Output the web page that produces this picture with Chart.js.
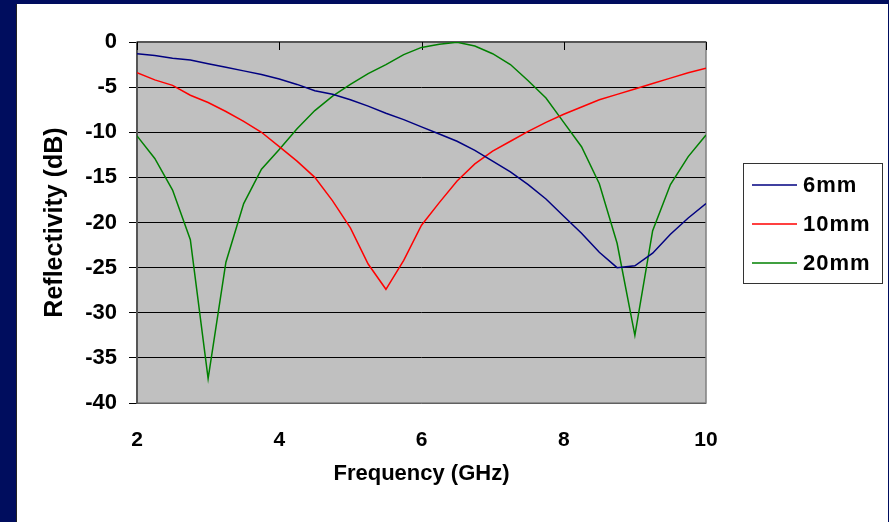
<!DOCTYPE html>
<html>
<head>
<meta charset="utf-8">
<script src="https://cdn.jsdelivr.net/npm/chart.js@4.4.1/dist/chart.umd.min.js"></script>
<style>
  html, body { margin: 0; padding: 0; }
  body { width: 889px; height: 522px; background: #000d5e; position: relative; overflow: hidden; }
  #panel { position: absolute; left: 16px; top: 4px; width: 872px; height: 518px; background: #fff; border-left: 1px solid #222; box-sizing: border-box; }
  #chart { position: absolute; left: -1px; top: 0; }
</style>
</head>
<body>
<div id="panel"><canvas id="chart" width="872" height="518"></canvas></div>
<script>
// Frequency points (GHz)
const freq = [2, 2.25, 2.5, 2.75, 3, 3.25, 3.5, 3.75, 4, 4.25, 4.5, 4.75, 5, 5.25, 5.5, 5.75,
              6, 6.25, 6.5, 6.75, 7, 7.25, 7.5, 7.75, 8, 8.25, 8.5, 8.75, 9, 9.25, 9.5, 9.75, 10];

// Reflectivity (dB) per thickness
const refl6mm = [-1.3, -1.5, -1.8, -2.0, -2.4, -2.8, -3.2, -3.6, -4.1, -4.7, -5.4, -5.8, -6.4, -7.1, -7.9, -8.6,
                 -9.4, -10.2, -11.0, -12.0, -13.2, -14.4, -15.8, -17.4, -19.3, -21.2, -23.3, -25.0, -24.8, -23.4, -21.3, -19.5, -17.9];
const refl10mm = [-3.4, -4.2, -4.8, -5.9, -6.7, -7.7, -8.8, -10.0, -11.6, -13.2, -15.0, -17.6, -20.6, -24.6, -27.4, -24.2,
                  -20.3, -17.8, -15.4, -13.5, -12.1, -11.0, -9.9, -8.9, -8.0, -7.2, -6.4, -5.8, -5.2, -4.6, -4.0, -3.4, -2.9];
const refl20mm = [-10.4, -12.9, -16.4, -21.9, -37.3, -24.4, -17.9, -14.1, -11.9, -9.6, -7.6, -6.0, -4.7, -3.5, -2.5, -1.4,
                  -0.6, -0.25, -0.03, -0.45, -1.3, -2.5, -4.3, -6.2, -8.9, -11.6, -15.7, -22.3, -32.5, -20.9, -15.8, -12.7, -10.3];

const seriesNames = ['6mm', '10mm', '20mm'];
const seriesColors = ['#000080', '#ff0000', '#008000'];

Chart.defaults.font.family = "'Liberation Sans', Arial, sans-serif";
Chart.defaults.color = '#000';

function toPoints(values) {
    return freq.map((f, i) => ({ x: f, y: values[i] }));
}

// Gray plot area and frame, like the Excel plot area
const plotAreaPlugin = {
    id: 'plotArea',
    beforeDraw(chart) {
        const { ctx, chartArea: a } = chart;
        ctx.save();
        ctx.fillStyle = '#c0c0c0';
        ctx.fillRect(a.left, a.top, a.right - a.left, a.bottom - a.top);
        ctx.restore();
    },
    beforeDatasetsDraw(chart) {
        const { ctx, chartArea: a, scales } = chart;
        ctx.save();
        ctx.strokeStyle = '#808080';
        ctx.lineWidth = 1.5;
        ctx.strokeRect(a.left, a.top, a.right - a.left, a.bottom - a.top);
        // dark axis lines (left value axis, top category axis)
        ctx.strokeStyle = '#555';
        ctx.lineWidth = 2;
        ctx.beginPath();
        ctx.moveTo(a.left, a.top);
        ctx.lineTo(a.left, a.bottom);
        ctx.moveTo(a.left, a.top);
        ctx.lineTo(a.right, a.top);
        ctx.stroke();
        // x axis tick marks sit on the 0 dB line, pointing down
        ctx.strokeStyle = '#000';
        ctx.lineWidth = 1;
        ctx.beginPath();
        scales.x.ticks.forEach(t => {
            const px = Math.round(scales.x.getPixelForValue(t.value)) + 0.5;
            ctx.moveTo(px, a.top);
            ctx.lineTo(px, a.top + 8);
        });
        ctx.stroke();
        ctx.restore();
    }
};

// Boxed legend on the right
const boxLegendPlugin = {
    id: 'boxLegend',
    afterDraw(chart) {
        const { ctx } = chart;
        const x0 = 727, y0 = 159, w = 139, h = 120;
        ctx.save();
        ctx.strokeStyle = '#333';
        ctx.lineWidth = 1;
        ctx.strokeRect(x0 + 0.5, y0 + 0.5, w, h);
        ctx.font = "bold 22px 'Liberation Sans', Arial, sans-serif";
        ctx.letterSpacing = '1px';
        ctx.textAlign = 'left';
        ctx.textBaseline = 'middle';
        chart.data.datasets.forEach((ds, i) => {
            const y = y0 + 22 + i * 39;
            ctx.strokeStyle = ds.borderColor;
            ctx.lineWidth = 1.5;
            ctx.beginPath();
            ctx.moveTo(x0 + 9, y);
            ctx.lineTo(x0 + 54, y);
            ctx.stroke();
            ctx.fillStyle = '#000';
            ctx.fillText(ds.label, x0 + 60, y + 1);
        });
        ctx.restore();
    }
};

const ctx = document.getElementById('chart').getContext('2d');
new Chart(ctx, {
    type: 'line',
    data: {
        datasets: [refl6mm, refl10mm, refl20mm].map((vals, i) => ({
            label: seriesNames[i],
            data: toPoints(vals),
            borderColor: seriesColors[i],
            backgroundColor: seriesColors[i],
            borderWidth: 1.5,
            pointRadius: 0,
            tension: 0,
            fill: false
        }))
    },
    options: {
        responsive: false,
        animation: false,
        devicePixelRatio: 1,
        layout: { padding: { top: 38, right: 182, left: 0, bottom: 0 } },
        plugins: {
            legend: { display: false },
            tooltip: { enabled: false }
        },
        scales: {
            x: {
                type: 'linear',
                min: 2,
                max: 10,
                ticks: { stepSize: 2, padding: 25, font: { size: 21, weight: 'bold' }, maxRotation: 0 },
                grid: { display: false, drawTicks: false },
                border: { display: false },
                title: {
                    display: true,
                    text: 'Frequency (GHz)',
                    font: { size: 22, weight: 'bold' },
                    padding: { top: 0, bottom: 35 }
                },
                afterFit(scale) { scale.height = 119; }
            },
            y: {
                min: -40,
                max: 0,
                ticks: { stepSize: 5, padding: 12, font: { size: 22, weight: 'bold' } },
                grid: { color: '#000', lineWidth: 1, tickLength: 8, drawTicks: true },
                border: { display: false },
                title: {
                    display: true,
                    text: 'Reflectivity (dB)',
                    font: { size: 25, weight: 'bold' },
                    padding: { top: 24, bottom: 0 }
                },
                afterFit(scale) { scale.width = 121; }
            }
        }
    },
    plugins: [plotAreaPlugin, boxLegendPlugin]
});
</script>
</body>
</html>
